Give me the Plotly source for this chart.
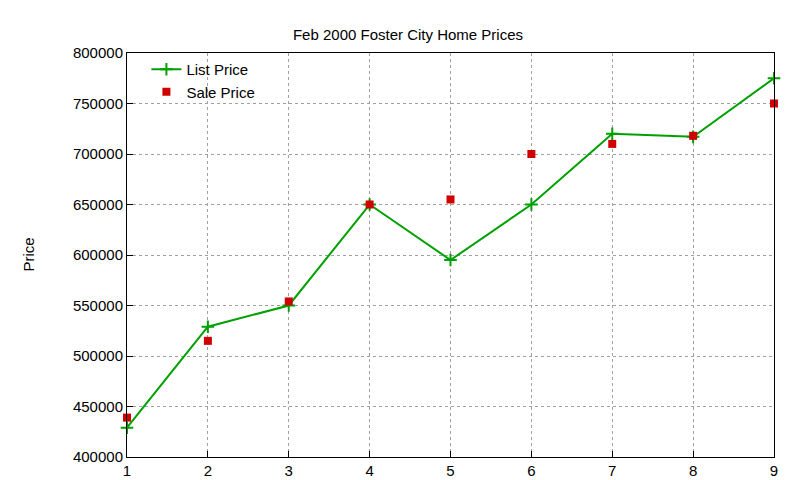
import plotly.graph_objects as go

x_vals = [1, 2, 3, 4, 5, 6, 7, 8, 9]
list_price = [429000, 529000, 550000, 650000, 595000, 650000, 720000, 717000, 775000]
sale_price = [439000, 515000, 554000, 650000, 655000, 700000, 710000, 718000, 750000]

fig = go.Figure()
fig.add_trace(go.Scatter(x=x_vals, y=list_price, mode='lines+markers', name='List Price',
                         line=dict(color='#00a000', width=2), cliponaxis=False,
                         marker=dict(symbol='cross-thin', size=9, line=dict(color='#00a000', width=2))))
fig.add_trace(go.Scatter(x=x_vals, y=sale_price, mode='markers', name='Sale Price',
                         cliponaxis=False,
                         marker=dict(symbol='square', size=8, color='#d00000')))

axis_style = dict(showline=True, linecolor='black', linewidth=1, mirror=True,
                  showgrid=True, gridcolor='#a0a0a0', griddash='dot', gridwidth=1,
                  ticks='inside', ticklen=6, tickcolor='black', zeroline=False,
                  automargin=False, tickfont=dict(size=15, color='black'))

fig.update_layout(
    width=800, height=480,
    paper_bgcolor='white', plot_bgcolor='white',
    margin=dict(l=119, r=34, t=45, b=31),
    font=dict(family='Liberation Sans, Arial, sans-serif', size=15, color='black'),
    title=dict(text='Feb 2000 Foster City Home Prices', x=0.5, y=0.955, xanchor='center',
               font=dict(size=15)),
    xaxis=dict(range=[1, 9], dtick=1, **axis_style),
    yaxis=dict(range=[400000, 800000], dtick=50000, tickformat='d', **axis_style),
    legend=dict(x=0.03, y=1.0, xanchor='left', yanchor='top', bgcolor='rgba(0,0,0,0)',
                font=dict(size=15), tracegroupgap=0),
    annotations=[dict(text='Price', xref='paper', yref='paper', x=-0.17, y=0.5,
                      textangle=-90, showarrow=False, font=dict(size=15))],
    showlegend=True,
)

fig.write_html("out.html")
